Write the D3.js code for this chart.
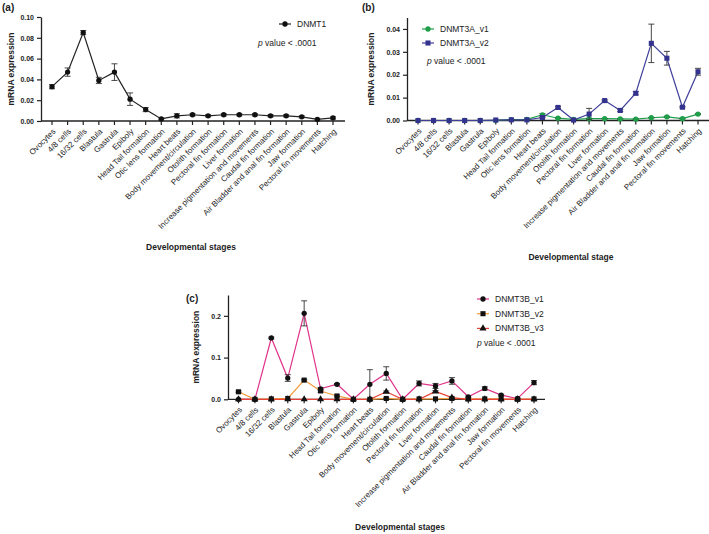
<!DOCTYPE html>
<html>
<head>
<meta charset="utf-8">
<script src="https://cdn.jsdelivr.net/npm/d3@7"></script>
<style>
  body { margin: 0; background: #fff; }
  svg { font-family: "Liberation Sans", Arial, sans-serif; }
</style>
</head>
<body>
<script>
let stages = ['Ovocytes', '4/8 cells', '16/32 cells', 'Blastula', 'Gastrula', 'Epiboly',
  'Head Tail formation', 'Otic lens formation', 'Heart beats', 'Body movement/circulation',
  'Otolith formation', 'Pectoral fin formation', 'Liver formation',
  'Increase pigmentation and movements', 'Caudal fin formation',
  'Air Bladder and anal fin formation', 'Jaw formation', 'Pectoral fin movements', 'Hatching']

// (a) DNMT1
let dnmt1 = [0.033, 0.047, 0.085, 0.039, 0.047, 0.021, 0.011, 0.002, 0.005, 0.006,
  0.005, 0.006, 0.006, 0.006, 0.005, 0.005, 0.004, 0.0015, 0.003]
let dnmt1Err = [0.002, 0.004, 0.002, 0.003, 0.008, 0.006, 0.002, 0.001, 0.002, 0.001,
  0.001, 0.001, 0.001, 0.001, 0.001, 0.001, 0.001, 0.001, 0.001]

// (b) DNMT3A
let dnmt3aV1 = [0, 0, 0, 0, 0, 0.0001, 0.0004, 0.0005, 0.0025, 0.001,
  0.0005, 0.0008, 0.0008, 0.0007, 0.0006, 0.0012, 0.0016, 0.0008, 0.0028]
let dnmt3aV1Err = [0, 0, 0, 0, 0, 0, 0.0001, 0.0001, 0.0005, 0.0001,
  0.0001, 0.0001, 0.0001, 0.0001, 0.0001, 0.0001, 0.0002, 0.0001, 0.0002]
let dnmt3aV2 = [0, 0, 0, 0, 0, 0.0002, 0.0003, 0.0003, 0.0013, 0.0057,
  0.0002, 0.0028, 0.0087, 0.0044, 0.0119, 0.0337, 0.0272, 0.0058, 0.0213]
let dnmt3aV2Err = [0, 0, 0, 0, 0, 0, 0, 0, 0.0002, 0.0004,
  0, 0.0025, 0.0003, 0.0005, 0.0007, 0.0084, 0.003, 0.0003, 0.0015]

// (c) DNMT3B
let dnmt3bV1 = [0, 0, 0.147, 0.051, 0.206, 0.025, 0.036, 0, 0.036, 0.062,
  0, 0.038, 0.032, 0.044, 0.006, 0.026, 0.01, 0.002, 0.04]
let dnmt3bV1Err = [0, 0, 0.002, 0.008, 0.03, 0.003, 0.002, 0, 0.035, 0.016,
  0, 0.006, 0.006, 0.008, 0.002, 0.004, 0.002, 0.001, 0.005]
let dnmt3bV2 = [0.018, 0, 0.001, 0.002, 0.046, 0.02, 0.008, 0, 0, 0.002,
  0, 0.001, 0.001, 0.002, 0.001, 0.001, 0.001, 0, 0.001]
let dnmt3bV2Err = [0.002, 0, 0, 0, 0.002, 0.003, 0.002, 0, 0, 0.001,
  0, 0, 0, 0, 0, 0, 0, 0, 0]
let dnmt3bV3 = [0, 0, 0, 0, 0, 0, 0, 0, 0, 0.018,
  0, 0, 0.019, 0.004, 0, 0, 0, 0, 0]
let dnmt3bV3Err = [0, 0, 0, 0, 0, 0, 0, 0, 0, 0.002,
  0, 0, 0.002, 0.001, 0, 0, 0, 0, 0]

let svg = d3.select('body')
  .append('svg')
  .attr('width', 709)
  .attr('height', 534)

// marker shapes
let symbols = { circle: d3.symbolCircle, square: d3.symbolSquare, triangle: d3.symbolTriangle }

function drawPanel(p) {
  let x = d3.scalePoint().domain(stages).range(p.xRange)
  let y = d3.scaleLinear().domain(p.yDomain).range(p.yRange)
  let g = svg.append('g')

  // y axis
  let yAxis = g.append('g')
    .attr('transform', 'translate(' + p.axisX + ',0)')
    .call(d3.axisLeft(y).tickValues(p.yTicks).tickFormat(d3.format(p.fmt)).tickSize(4).tickSizeOuter(0))
  yAxis.select('.domain').attr('stroke', '#222').attr('stroke-width', 1.3)
  yAxis.selectAll('.tick line').attr('stroke', '#222').attr('stroke-width', 1.2)
  yAxis.selectAll('text').attr('font-size', 7).attr('font-weight', 'bold').attr('fill', '#222')

  // x axis
  let x0 = y(0)
  g.append('line')
    .attr('x1', p.axisX).attr('x2', p.axisEnd)
    .attr('y1', x0).attr('y2', x0)
    .attr('stroke', '#222').attr('stroke-width', 1.3)
  g.selectAll('.xtick')
    .data(stages)
    .enter()
    .append('line')
    .attr('x1', d => x(d)).attr('x2', d => x(d))
    .attr('y1', x0).attr('y2', x0 + 4)
    .attr('stroke', '#222').attr('stroke-width', 1.2)
  g.selectAll('.xlab')
    .data(stages)
    .enter()
    .append('text')
    .attr('transform', d => 'translate(' + (x(d) + 2) + ',' + (x0 + 9) + ') rotate(-45)')
    .attr('text-anchor', 'end')
    .attr('dy', '0.35em')
    .attr('font-size', 8)
    .attr('fill', '#222')
    .text(d => d)

  // titles
  g.append('text')
    .attr('transform', 'translate(' + p.yTitleX + ',' + (p.yRange[0] + p.yRange[1]) / 2 + ') rotate(-90)')
    .attr('text-anchor', 'middle')
    .attr('font-size', 8.5).attr('font-weight', 'bold').attr('fill', '#222')
    .text('mRNA expression')
  g.append('text')
    .attr('x', p.xTitle[0]).attr('y', p.xTitle[1])
    .attr('text-anchor', 'middle')
    .attr('font-size', 8.5).attr('font-weight', 'bold').attr('fill', '#222')
    .text(p.xTitleText)
  g.append('text')
    .attr('x', p.tag[0]).attr('y', p.tag[1])
    .attr('font-size', 10).attr('font-weight', 'bold').attr('fill', '#222')
    .text(p.tagText)

  // series
  let line = d3.line().x((d, i) => x(stages[i])).y(d => y(d))
  p.series.forEach(s => {
    g.append('path')
      .datum(s.values)
      .attr('fill', 'none')
      .attr('stroke', s.color)
      .attr('stroke-width', 1.2)
      .attr('d', line)
  })
  p.series.forEach(s => {
    let eb = g.append('g')
    s.values.forEach((v, i) => {
      let e = s.err[i]
      if (!e) return
      let cx = x(stages[i])
      eb.append('line').attr('x1', cx).attr('x2', cx).attr('y1', y(v - e)).attr('y2', y(v + e))
      eb.append('line').attr('x1', cx - 3).attr('x2', cx + 3).attr('y1', y(v - e)).attr('y2', y(v - e))
      eb.append('line').attr('x1', cx - 3).attr('x2', cx + 3).attr('y1', y(v + e)).attr('y2', y(v + e))
    })
    eb.selectAll('line').attr('stroke', '#333').attr('stroke-width', 0.9)
    g.selectAll(null)
      .data(s.values)
      .enter()
      .append('path')
      .attr('d', d3.symbol().type(symbols[s.shape]).size(s.size))
      .attr('transform', (d, i) => 'translate(' + x(stages[i]) + ',' + y(d) + ')')
      .attr('fill', s.markFill)
  })

  // legend
  p.series.forEach((s, i) => {
    let ly = p.legend[1] + i * p.legendGap
    g.append('line')
      .attr('x1', p.legend[0] - 6).attr('x2', p.legend[0] + 6)
      .attr('y1', ly).attr('y2', ly)
      .attr('stroke', s.color).attr('stroke-width', 1.2)
    g.append('path')
      .attr('d', d3.symbol().type(symbols[s.shape]).size(s.size))
      .attr('transform', 'translate(' + p.legend[0] + ',' + ly + ')')
      .attr('fill', s.markFill)
    g.append('text')
      .attr('x', p.legend[0] + 12).attr('y', ly + 3)
      .attr('font-size', 8.5).attr('fill', '#222')
      .text(s.name)
  })
  let pv = g.append('text')
    .attr('x', p.pval[0]).attr('y', p.pval[1])
    .attr('font-size', 8.5).attr('fill', '#222')
  pv.append('tspan').attr('font-style', 'italic').text('p')
  pv.append('tspan').text(' value < .0001')
}

drawPanel({
  xRange: [52, 333], yDomain: [0, 0.10], yRange: [121, 17],
  yTicks: [0, 0.02, 0.04, 0.06, 0.08, 0.10], fmt: '.2f',
  axisX: 41, axisEnd: 345, yTitleX: 14,
  xTitle: [191, 250], xTitleText: 'Developmental stages',
  tag: [2, 11], tagText: '(a)',
  legend: [285, 24], legendGap: 14, pval: [258, 46],
  series: [
    { name: 'DNMT1', values: dnmt1, err: dnmt1Err, color: '#222', markFill: '#111', shape: 'circle', size: 22 }
  ]
})

drawPanel({
  xRange: [418, 698], yDomain: [0, 0.045], yRange: [120.5, 17.5],
  yTicks: [0, 0.01, 0.02, 0.03, 0.04], fmt: '.2f',
  axisX: 407, axisEnd: 709, yTitleX: 374,
  xTitle: [571, 260], xTitleText: 'Developmental stage',
  tag: [362, 11], tagText: '(b)',
  legend: [428, 29], legendGap: 14, pval: [427, 64],
  series: [
    { name: 'DNMT3A_v1', values: dnmt3aV1, err: dnmt3aV1Err, color: '#1f9e4a', markFill: '#1f9e4a', shape: 'circle', size: 22 },
    { name: 'DNMT3A_v2', values: dnmt3aV2, err: dnmt3aV2Err, color: '#3f3f9a', markFill: '#33338f', shape: 'square', size: 26 }
  ]
})

drawPanel({
  xRange: [238.5, 534], yDomain: [0, 0.25], yRange: [399.3, 295],
  yTicks: [0, 0.1, 0.2], fmt: '.1f',
  axisX: 228, axisEnd: 545, yTitleX: 199,
  xTitle: [400, 530], xTitleText: 'Developmental stages',
  tag: [186, 302], tagText: '(c)',
  legend: [483, 299], legendGap: 14.7, pval: [477, 346],
  series: [
    { name: 'DNMT3B_v1', values: dnmt3bV1, err: dnmt3bV1Err, color: '#e0338a', markFill: '#111', shape: 'circle', size: 22 },
    { name: 'DNMT3B_v2', values: dnmt3bV2, err: dnmt3bV2Err, color: '#f39a3a', markFill: '#111', shape: 'square', size: 26 },
    { name: 'DNMT3B_v3', values: dnmt3bV3, err: dnmt3bV3Err, color: '#e8413a', markFill: '#111', shape: 'triangle', size: 22 }
  ]
})
</script>
</body>
</html>
